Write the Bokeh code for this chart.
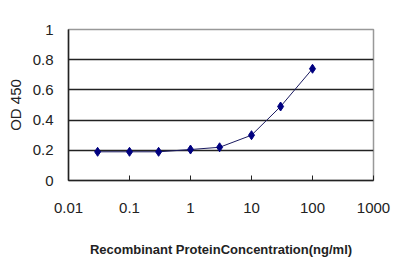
from bokeh.plotting import figure
from bokeh.models import Range1d, FixedTicker, ColumnDataSource
from bokeh.embed import file_html
from bokeh.resources import INLINE

concentration = [0.03, 0.1, 0.3, 1, 3, 10, 30, 100]
od450 = [0.19, 0.19, 0.19, 0.205, 0.22, 0.30, 0.49, 0.74]
x_ticks = [0.01, 0.1, 1, 10, 100, 1000]
x_tick_labels = ["0.01", "0.1", "1", "10", "100", "1000"]
y_ticks = [0, 0.2, 0.4, 0.6, 0.8, 1]
y_tick_labels = ["0", "0.2", "0.4", "0.6", "0.8", "1"]

FONT = "Liberation Sans"
TXT = "#222222"

p = figure(width=400, height=267, x_axis_type="log",
           x_range=Range1d(0.01, 1000), y_range=Range1d(0, 1),
           output_backend="svg", toolbar_location=None,
           min_border_left=68, min_border_right=27,
           min_border_top=29, min_border_bottom=87)

p.background_fill_color = "white"
p.border_fill_color = "white"
p.outline_line_color = "#999999"
p.outline_line_width = 1.5

src = ColumnDataSource(dict(x=concentration, y=od450))
p.line("x", "y", source=src, line_color="#1a1a60", line_width=1)
p.scatter("x", "y", source=src, marker="diamond", size=9,
          fill_color="#000080", line_color="#000080")

p.xgrid.visible = False
p.ygrid.ticker = FixedTicker(ticks=[0.2, 0.4, 0.6, 0.8])
p.ygrid.grid_line_color = "#222222"
p.ygrid.grid_line_width = 1.5

xa = p.xaxis[0]
xa.ticker = FixedTicker(ticks=x_ticks)
xa.major_label_overrides = {t: l for t, l in zip(x_ticks, x_tick_labels)}
xa.major_tick_in = 5
xa.major_tick_out = 0
xa.minor_tick_in = 0
xa.minor_tick_out = 0
xa.axis_line_color = "#222222"
xa.axis_line_width = 1.5
xa.major_tick_line_color = "#222222"
xa.major_label_standoff = 22
xa.major_label_text_font = FONT
xa.major_label_text_font_size = "15px"
xa.major_label_text_color = TXT
xa.axis_label = "Recombinant ProteinConcentration(ng/ml)"
xa.axis_label_text_font = FONT
xa.axis_label_text_font_size = "13px"
xa.axis_label_text_font_style = "bold"
xa.axis_label_text_color = TXT
xa.axis_label_standoff = 26

ya = p.yaxis[0]
ya.ticker = FixedTicker(ticks=y_ticks)
ya.major_label_overrides = {t: l for t, l in zip(y_ticks, y_tick_labels)}
ya.major_tick_in = 0
ya.major_tick_out = 0
ya.minor_tick_in = 0
ya.minor_tick_out = 0
ya.axis_line_color = "#222222"
ya.axis_line_width = 1.5
ya.major_label_standoff = 15
ya.major_label_text_font = FONT
ya.major_label_text_font_size = "15px"
ya.major_label_text_color = TXT
ya.axis_label = "OD 450"
ya.axis_label_text_font = FONT
ya.axis_label_text_font_size = "15px"
ya.axis_label_text_font_style = "normal"
ya.axis_label_text_color = TXT
ya.axis_label_standoff = 6

open("out.html", "w").write(file_html(p, INLINE))
